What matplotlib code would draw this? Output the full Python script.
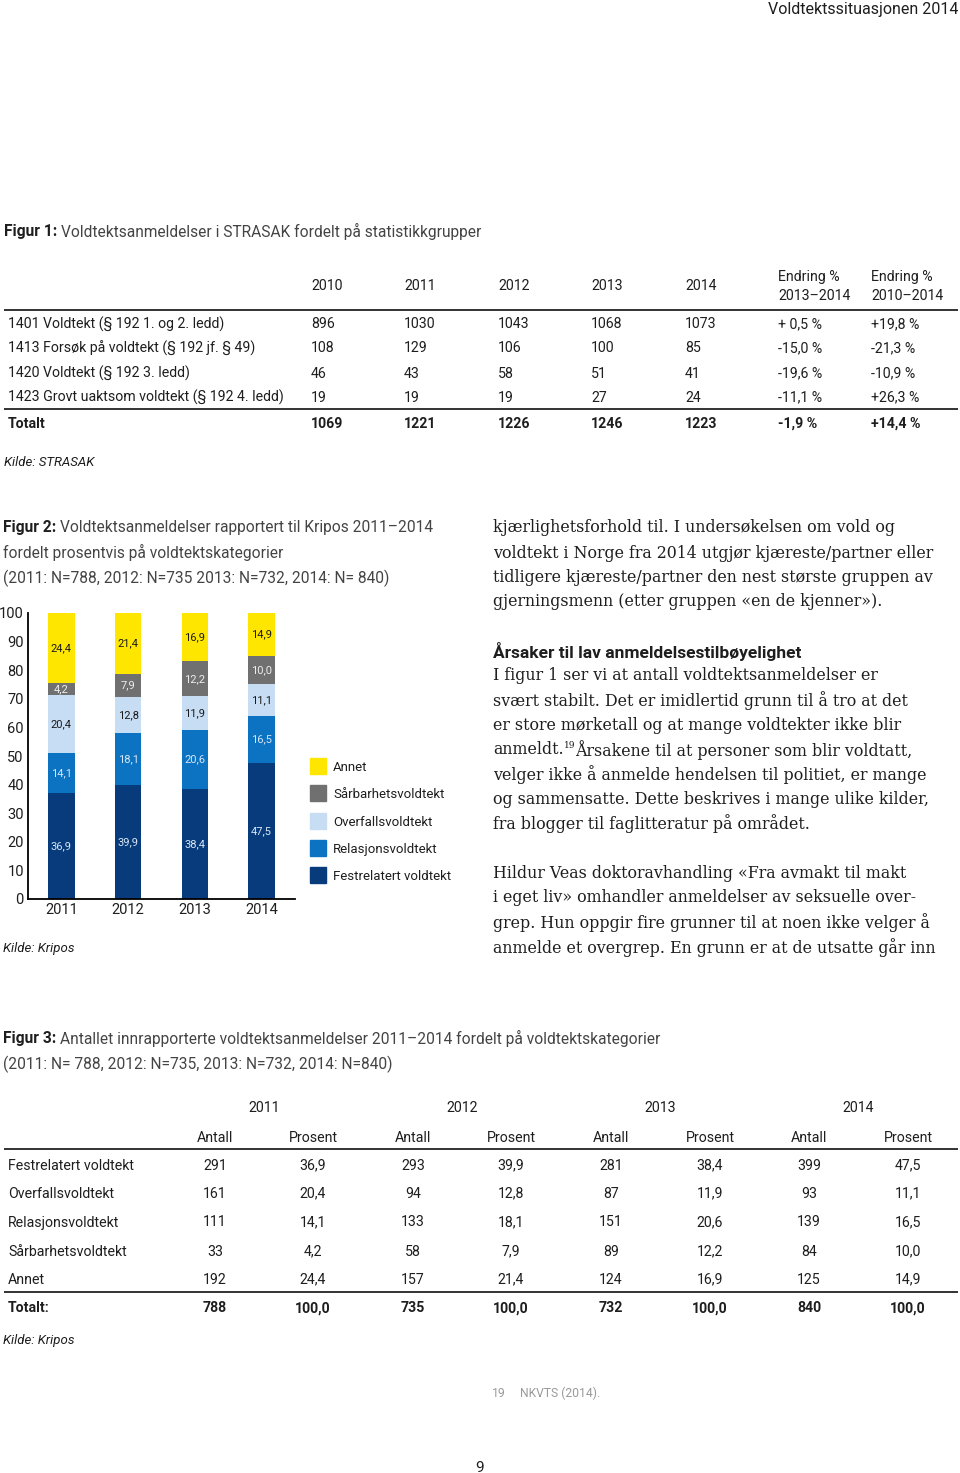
import matplotlib
matplotlib.use("Agg")
import matplotlib.pyplot as plt

# ---- data ----
years1 = ["2010", "2011", "2012", "2013", "2014"]
groups1 = ["1401 Voldtekt (§ 192 1. og 2. ledd)",
           "1413 Forsøk på voldtekt (§ 192 jf. § 49)",
           "1420 Voldtekt (§ 192 3. ledd)",
           "1423 Grovt uaktsom voldtekt (§ 192 4. ledd)"]
n2010 = [896, 108, 46, 19]
n2011 = [1030, 129, 43, 19]
n2012 = [1043, 106, 58, 19]
n2013 = [1068, 100, 51, 27]
n2014 = [1073, 85, 41, 24]
tot1 = [1069, 1221, 1226, 1246, 1223]
chg_13_14 = ["+ 0,5 %", "-15,0 %", "-19,6 %", "-11,1 %"]
chg_10_14 = ["+19,8 %", "-21,3 %", "-10,9 %", "+26,3 %"]
tot_chg = ["-1,9 %", "+14,4 %"]

years = ["2011", "2012", "2013", "2014"]
cats = ["Festrelatert voldtekt", "Overfallsvoldtekt", "Relasjonsvoldtekt",
        "Sårbarhetsvoldtekt", "Annet"]
antall = {"2011": [291, 161, 111, 33, 192],
          "2012": [293, 94, 133, 58, 157],
          "2013": [281, 87, 151, 89, 124],
          "2014": [399, 93, 139, 84, 125]}
prosent = {"2011": [36.9, 20.4, 14.1, 4.2, 24.4],
           "2012": [39.9, 12.8, 18.1, 7.9, 21.4],
           "2013": [38.4, 11.9, 20.6, 12.2, 16.9],
           "2014": [47.5, 11.1, 16.5, 10.0, 14.9]}
totals = [788, 735, 732, 840]

# stacking order in the chart (bottom -> top)
stack = ["Festrelatert voldtekt", "Relasjonsvoldtekt", "Overfallsvoldtekt",
         "Sårbarhetsvoldtekt", "Annet"]
colors = {"Festrelatert voldtekt": "#073B7B", "Relasjonsvoldtekt": "#0B73C2",
          "Overfallsvoldtekt": "#C7DDF3", "Sårbarhetsvoldtekt": "#707070",
          "Annet": "#FFE600"}
lab_col = {"Festrelatert voldtekt": "#D8E6F5", "Relasjonsvoldtekt": "#D8E6F5",
           "Overfallsvoldtekt": "#1a1a1a", "Sårbarhetsvoldtekt": "#EDEDED",
           "Annet": "#1a1a1a"}

SANS = ["Roboto", "DejaVu Sans"]
SERIF = ["DejaVu Serif"]
INK = "#1e1e1e"
TS = 10.2      # table text size
CS = 11.2      # caption size
BS = 11.4      # body serif size

def fmt(v):
    return f"{v:.1f}".replace(".", ",")

fig = plt.figure(figsize=(9.6, 14.73), dpi=100)
bg = fig.add_axes([0, 0, 1, 1])
bg.axis("off")
bg.set_xlim(0, 960)
bg.set_ylim(1473, 0)

def put(x, y, s, size=TS, fam=SANS, **kw):
    kw.setdefault("va", "center_baseline")
    kw.setdefault("color", INK)
    return bg.text(x, y, s, fontsize=size, family=fam, **kw)

def after(prev, y, s, size=TS, fam=SANS, dx=3, **kw):
    kw.setdefault("va", "center_baseline")
    kw.setdefault("color", INK)
    return bg.annotate(s, xy=(1, y), xycoords=(prev, "data"), xytext=(dx, 0),
                       textcoords="offset points", fontsize=size, family=fam, **kw)

# header
put(958, 8, "Voldtektssituasjonen 2014", size=11.5, ha="right")

# ---- figure 1 table ----
t = put(4, 230, "Figur 1:", size=CS, weight="bold")
after(t, 230, "Voldtektsanmeldelser i STRASAK fordelt på statistikkgrupper", size=CS, color="#444444")

cx = [311, 404, 498, 591, 685]
for x, yr in zip(cx, years1):
    put(x, 285, yr)
put(778, 276, "Endring %")
put(778, 295, "2013–2014")
put(871, 276, "Endring %")
put(871, 295, "2010–2014")
bg.hlines(310, 4, 958, color="#333333", lw=1.4)
rows_y = [323, 347, 372, 396]
cols = [n2010, n2011, n2012, n2013, n2014]
for i, g in enumerate(groups1):
    put(8, rows_y[i], g)
    for x, col in zip(cx, cols):
        put(x, rows_y[i], str(col[i]))
    put(778, rows_y[i], chg_13_14[i])
    put(871, rows_y[i], chg_10_14[i])
bg.hlines(409, 4, 958, color="#333333", lw=1.4)
put(8, 422, "Totalt", weight="bold")
for x, v in zip(cx, tot1):
    put(x, 422, str(v), weight="bold")
put(778, 422, tot_chg[0], weight="bold")
put(871, 422, tot_chg[1], weight="bold")
put(4, 461, "Kilde: STRASAK", size=9.5, style="italic")

# ---- figure 2 caption ----
t = put(3, 526, "Figur 2:", size=CS, weight="bold")
after(t, 526, "Voldtektsanmeldelser rapportert til Kripos 2011–2014", size=CS, color="#444444")
put(3, 551, "fordelt prosentvis på voldtektskategorier", size=CS, color="#444444")
put(3, 576, "(2011: N=788, 2012: N=735 2013: N=732, 2014: N= 840)", size=CS, color="#444444")

# ---- figure 2 chart ----
ax = fig.add_axes([28 / 960, 1 - 899 / 1473, 267 / 960, 286 / 1473])
xs = range(len(years))
bottom = [0.0] * len(years)
for c in stack:
    vals = [prosent[y][cats.index(c)] for y in years]
    ax.bar(xs, vals, 0.4, bottom=bottom, color=colors[c], label=c)
    for i, v in enumerate(vals):
        ax.text(i, bottom[i] + v / 2, fmt(v), ha="center", va="center",
                fontsize=8, family=SANS, color=lab_col[c])
    bottom = [b + v for b, v in zip(bottom, vals)]
ax.set_xlim(-0.5, 3.5)
ax.set_ylim(0, 100)
ax.set_yticks(range(0, 101, 10))
ax.set_xticks(list(xs))
ax.set_xticklabels(years)
ax.tick_params(length=0, labelsize=10.5, colors=INK, pad=3)
for lbl in ax.get_xticklabels() + ax.get_yticklabels():
    lbl.set_family(SANS)
ax.spines["top"].set_visible(False)
ax.spines["right"].set_visible(False)
ax.spines["left"].set_linewidth(1.3)
ax.spines["bottom"].set_linewidth(1.3)
ax.patch.set_alpha(0)

# legend drawn as squares + labels
leg_y = [766, 793, 821, 848, 875]
for c, y in zip(stack[::-1], leg_y):
    bg.add_patch(plt.Rectangle((310, y - 8), 16, 16, color=colors[c]))
    put(333, y, c, size=9.5)

put(3, 947, "Kilde: Kripos", size=9.5, style="italic")

# ---- right column body text ----
body1 = ["kjærlighetsforhold til. I undersøkelsen om vold og",
         "voldtekt i Norge fra 2014 utgjør kjæreste/partner eller",
         "tidligere kjæreste/partner den nest største gruppen av",
         "gjerningsmenn (etter gruppen «en de kjenner»)."]
for s, y in zip(body1, [526, 551, 575, 600]):
    put(493, y, s, size=BS, fam=SERIF)
put(493, 650, "Årsaker til lav anmeldelsestilbøyelighet", size=12.5, weight="bold")
body2 = ["I figur 1 ser vi at antall voldtektsanmeldelser er",
         "svært stabilt. Det er imidlertid grunn til å tro at det",
         "er store mørketall og at mange voldtekter ikke blir"]
for s, y in zip(body2, [674, 699, 723]):
    put(493, y, s, size=BS, fam=SERIF)
t = put(493, 748, "anmeldt.", size=BS, fam=SERIF)
t19 = after(t, 744, "19", size=6.5, fam=SERIF, dx=0)
after(t19, 748, "Årsakene til at personer som blir voldtatt,", size=BS, fam=SERIF, dx=0)
body3 = ["velger ikke å anmelde hendelsen til politiet, er mange",
         "og sammensatte. Dette beskrives i mange ulike kilder,",
         "fra blogger til faglitteratur på området."]
for s, y in zip(body3, [773, 798, 822]):
    put(493, y, s, size=BS, fam=SERIF)
body4 = ["Hildur Veas doktoravhandling «Fra avmakt til makt",
         "i eget liv» omhandler anmeldelser av seksuelle over-",
         "grep. Hun oppgir fire grunner til at noen ikke velger å",
         "anmelde et overgrep. En grunn er at de utsatte går inn"]
for s, y in zip(body4, [872, 896, 921, 946]):
    put(493, y, s, size=BS, fam=SERIF)

# ---- figure 3 table ----
t = put(3, 1037, "Figur 3:", size=CS, weight="bold")
after(t, 1037, "Antallet innrapporterte voldtektsanmeldelser 2011–2014 fordelt på voldtektskategorier",
      size=CS, color="#444444")
put(3, 1062, "(2011: N= 788, 2012: N=735, 2013: N=732, 2014: N=840)", size=CS, color="#444444")

ant_x = [215, 413, 611, 809]
pro_x = [313, 511, 710, 908]
for yr, a, p in zip(years, ant_x, pro_x):
    put((a + p) / 2, 1107, yr, ha="center")
    put(a, 1136, "Antall", ha="center")
    put(p, 1136, "Prosent", ha="center")
bg.hlines(1149, 4, 958, color="#333333", lw=1.4)
rows3_y = [1164, 1192, 1221, 1250, 1278]
for i, c in enumerate(cats):
    put(8, rows3_y[i], c)
    for yr, a, p in zip(years, ant_x, pro_x):
        put(a, rows3_y[i], str(antall[yr][i]), ha="center")
        put(p, rows3_y[i], fmt(prosent[yr][i]), ha="center")
bg.hlines(1292, 4, 958, color="#333333", lw=1.4)
put(8, 1307, "Totalt:", weight="bold")
for tot, a, p in zip(totals, ant_x, pro_x):
    put(a, 1307, str(tot), ha="center", weight="bold")
    put(p, 1307, "100,0", ha="center", weight="bold")
put(3, 1339, "Kilde: Kripos", size=9.5, style="italic")

# footnote + page number
put(492, 1392, "19", size=8.7, color="#9a9a9a")
put(520, 1392, "NKVTS (2014).", size=8.7, color="#9a9a9a")
put(480, 1466, "9", size=11, ha="center")

fig.savefig("out.png", dpi=100)
